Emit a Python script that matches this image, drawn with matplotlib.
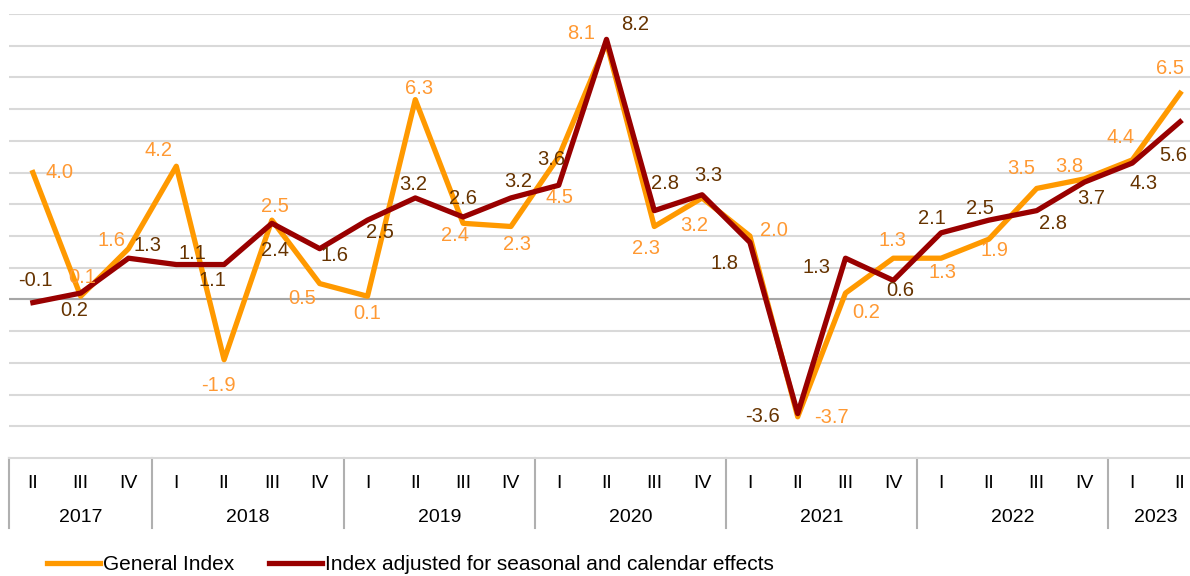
import matplotlib.pyplot as plt
from matplotlib.transforms import blended_transform_factory

# quarters 2017 II .. 2023 II
quarters = ["II", "III", "IV",
            "I", "II", "III", "IV",
            "I", "II", "III", "IV",
            "I", "II", "III", "IV",
            "I", "II", "III", "IV",
            "I", "II", "III", "IV",
            "I", "II"]
years = ["2017", "2018", "2019", "2020", "2021", "2022", "2023"]
year_counts = [3, 4, 4, 4, 4, 4, 2]

general = [4.0, 0.1, 1.6, 4.2, -1.9, 2.5, 0.5, 0.1, 6.3, 2.4, 2.3, 4.5, 8.1,
           2.3, 3.2, 2.0, -3.7, 0.2, 1.3, 1.3, 1.9, 3.5, 3.8, 4.4, 6.5]
adjusted = [-0.1, 0.2, 1.3, 1.1, 1.1, 2.4, 1.6, 2.5, 3.2, 2.6, 3.2, 3.6, 8.2,
            2.8, 3.3, 1.8, -3.6, 1.3, 0.6, 2.1, 2.5, 2.8, 3.7, 4.3, 5.6]

# label offsets in pixels (dx, dy)
gen_off = [(27, 0), (1, 19), (-17, 8), (-18, 16), (-6, -26), (3, 14), (-18, -15),
           (0, -17), (4, 11), (-8, -12), (6, -18), (1, -41), (-25, 9), (-8, -22),
           (-8, -28), (24, 6), (34, -1), (21, -19), (-1, 18), (1, -14), (6, -11),
           (-15, 20), (-15, 12), (-12, 22), (-10, 25)]
adj_off = [(2, 22), (-7, -17), (19, 13), (16, 11), (-12, -16), (3, -27), (15, -7),
           (12, -12), (-2, 13), (0, 18), (7, 16), (-7, 26), (29, 15), (11, 27),
           (6, 19), (-25, -21), (-35, -3), (-29, -9), (7, -10), (-9, 14), (-9, 12),
           (16, -13), (7, -16), (11, -20), (-7, -34)]

plt.rcParams['font.family'] = ['Liberation Sans', 'DejaVu Sans']

orange = "#FF9900"
orange_txt = "#FF9933"
red = "#990000"
brown_txt = "#663300"

fig = plt.figure(figsize=(11.9, 5.76), dpi=100)
W, H = 1190, 576
left, right = 9 / W, 1204 / W
top, bottom = 1 - 14 / H, 1 - 458 / H
ax = fig.add_axes([left, bottom, right - left, top - bottom])

x = list(range(len(quarters)))
ax.plot(x, general, color=orange, lw=3.8, solid_joinstyle='round', zorder=3,
        label="General Index")
ax.plot(x, adjusted, color=red, lw=3.8, solid_joinstyle='round', zorder=4,
        label="Index adjusted for seasonal and calendar effects")

for i, v in enumerate(general):
    ax.annotate(f"{v:.1f}", (i, v), xytext=gen_off[i], textcoords='offset pixels',
                ha='center', va='center', fontsize=14.5, color=orange_txt, zorder=5)
for i, v in enumerate(adjusted):
    ax.annotate(f"{v:.1f}", (i, v), xytext=adj_off[i], textcoords='offset pixels',
                ha='center', va='center', fontsize=14.5, color=brown_txt, zorder=5)

ax.set_xlim(-0.5, len(quarters) - 0.5)
ax.set_ylim(-5, 9)
ax.set_yticks(range(-4, 10))
ax.yaxis.grid(True, color="#d9d9d9", lw=1.5)
ax.axhline(0, color="#a6a6a6", lw=1.5, zorder=2)
ax.set_axisbelow(True)
ax.tick_params(axis='y', left=False, labelleft=False)
for s in ["top", "right", "left"]:
    ax.spines[s].set_visible(False)
ax.spines["bottom"].set_color("#d9d9d9")
ax.spines["bottom"].set_linewidth(1.5)

ax.set_xticks(x)
ax.set_xticklabels(quarters, fontsize=14)
ax.tick_params(axis='x', length=0, pad=12)

trans = blended_transform_factory(ax.transData, ax.transAxes)
sep_bottom = -70 / 444
year_y = -60 / 444
start = -0.5
ax.plot([start, start], [0, sep_bottom], color="#b0b0b0", lw=1.5,
        transform=trans, clip_on=False)
for yr, n in zip(years, year_counts):
    end = start + n
    ax.text((start + end) / 2, year_y, yr, transform=trans, ha='center', va='center',
            fontsize=14)
    ax.plot([end, end], [0, sep_bottom], color="#b0b0b0", lw=1.5,
            transform=trans, clip_on=False)
    start = end

fig.legend(loc='center left', bbox_to_anchor=(47 / W, 1 - 565 / H), ncol=2,
           frameon=False, fontsize=15, borderpad=0, borderaxespad=0,
           handlelength=2.55, handletextpad=0.12, columnspacing=1.7)

fig.savefig("out.png", dpi=100)
